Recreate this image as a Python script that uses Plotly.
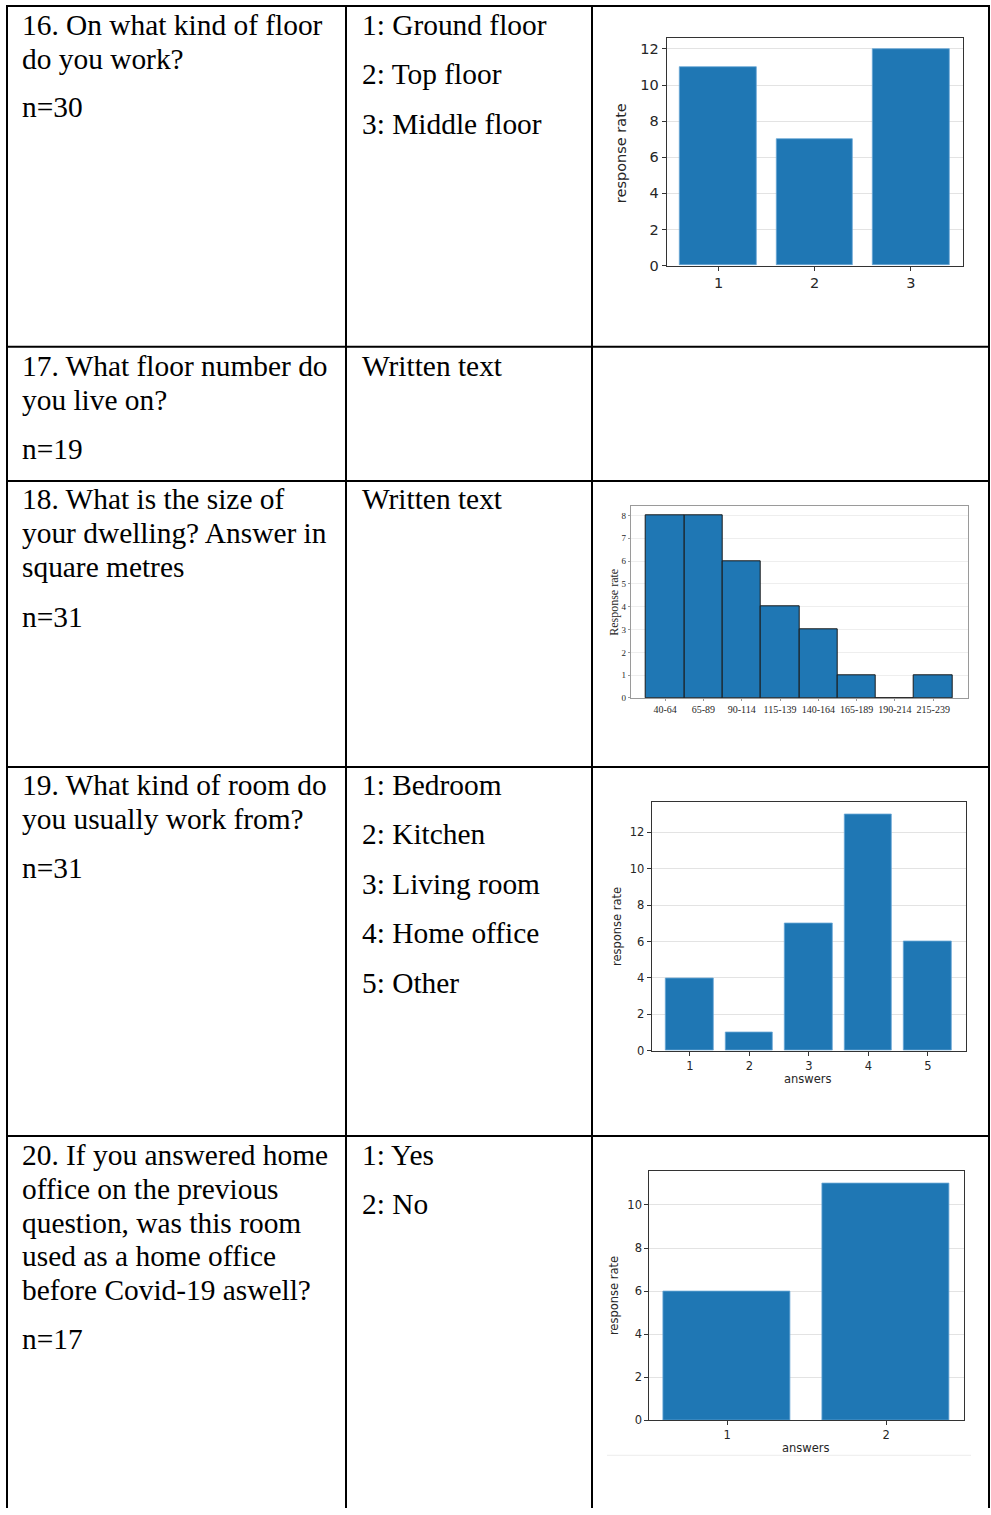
import plotly.graph_objects as go

W, H = 991, 1515

# ---------------- data ----------------
q16_answers = [1, 2, 3]
q16_counts = [11, 7, 12]

q18_bins = ["40-64", "65-89", "90-114", "115-139", "140-164", "165-189", "190-214", "215-239"]
q18_counts = [8, 8, 6, 4, 3, 1, 0, 1]

q19_answers = [1, 2, 3, 4, 5]
q19_counts = [4, 1, 7, 13, 6]

q20_answers = [1, 2]
q20_counts = [6, 11]

# ---------------- table text ----------------
q16_lines = ["16. On what kind of floor", "do you work?"]
q16_n = "n=30"
q16_opts = ["1: Ground floor", "2: Top floor", "3: Middle floor"]

q17_lines = ["17. What floor number do", "you live on?"]
q17_n = "n=19"
q17_opts = ["Written text"]

q18_lines = ["18. What is the size of", "your dwelling? Answer in", "square metres"]
q18_n = "n=31"
q18_opts = ["Written text"]

q19_lines = ["19. What kind of room do", "you usually work from?"]
q19_n = "n=31"
q19_opts = ["1: Bedroom", "2: Kitchen", "3: Living room", "4: Home office", "5: Other"]

q20_lines = ["20. If you answered home", "office on the previous", "question, was this room",
             "used as a home office", "before Covid-19 aswell?"]
q20_n = "n=17"
q20_opts = ["1: Yes", "2: No"]


def px(x):
    return x / W


def py(y):
    return 1 - y / H


BLUE = "#1f77b4"
SERIF = "Liberation Serif, Times New Roman, serif"
SANS = "DejaVu Sans, sans-serif"
TXT = 29.4

fig = go.Figure()

# ---- bar traces ----
fig.add_trace(go.Bar(x=q16_answers, y=q16_counts, width=0.8, marker=dict(color=BLUE, line=dict(color="#6aa7d6", width=0.8)),
                     xaxis="x", yaxis="y", showlegend=False))
fig.add_trace(go.Bar(x=q18_bins, y=q18_counts, width=1.0, marker=dict(color=BLUE, line=dict(color="#1a1a1a", width=1)),
                     xaxis="x2", yaxis="y2", showlegend=False))
fig.add_trace(go.Bar(x=q19_answers, y=q19_counts, width=0.8, marker=dict(color=BLUE, line=dict(color="#6aa7d6", width=0.8)),
                     xaxis="x3", yaxis="y3", showlegend=False))
fig.add_trace(go.Bar(x=q20_answers, y=q20_counts, width=0.8, marker=dict(color=BLUE, line=dict(color="#6aa7d6", width=0.8)),
                     xaxis="x4", yaxis="y4", showlegend=False))


def xax(l, r, rng, tickvals, fs, font=SANS, lc="#333333", tl=4):
    d = dict(domain=[px(l), px(r)], range=rng, showline=True, mirror=True, linecolor=lc, linewidth=1,
             ticks="outside", ticklen=tl, tickcolor=lc, showgrid=False, zeroline=False, fixedrange=True,
             tickfont=dict(family=font, size=fs, color="#262626"))
    if tickvals is not None:
        d.update(tickmode="array", tickvals=tickvals)
    return d


def yax(t, b, rng, tickvals, fs, font=SANS, lc="#333333", gc="#e3e3e3", tl=4):
    return dict(domain=[py(b), py(t)], range=rng, showline=True, mirror=True, linecolor=lc, linewidth=1,
                ticks="outside", ticklen=tl, tickcolor=lc, showgrid=True, gridcolor=gc, gridwidth=1,
                zeroline=False, fixedrange=True, tickmode="array", tickvals=tickvals,
                tickfont=dict(family=font, size=fs, color="#262626"))


layout = dict(
    width=W, height=H, margin=dict(l=0, r=0, t=0, b=0),
    paper_bgcolor="white", plot_bgcolor="white", bargap=0,
    xaxis=xax(666.7, 962.7, [0.46, 3.54], q16_answers, 14.5),
    yaxis=yax(38.3, 267, [0, 12.6], [0, 2, 4, 6, 8, 10, 12], 14.5),
    xaxis2=xax(630.7, 967.7, [-0.9, 7.9], None, 10, font=SERIF, lc="#9a9a9a", tl=2),
    yaxis2=yax(509, 701.7, [0, 8.4], list(range(0, 9)), 9, font=SERIF, lc="#9a9a9a", gc="#eeeeee", tl=2),
    xaxis3=xax(651.7, 966, [0.36, 5.64], q19_answers, 11.5),
    yaxis3=yax(806.7, 1056.3, [0, 13.65], [0, 2, 4, 6, 8, 10, 12], 11.5),
    xaxis4=xax(649.3, 964, [0.51, 2.49], q20_answers, 11.5),
    yaxis4=yax(1177.7, 1428, [0, 11.55], [0, 2, 4, 6, 8, 10], 11.5),
)
layout["xaxis"]["anchor"] = "y"
layout["yaxis"]["anchor"] = "x"
layout["xaxis2"]["anchor"] = "y2"
layout["yaxis2"]["anchor"] = "x2"
layout["xaxis2"]["type"] = "category"
layout["xaxis3"]["anchor"] = "y3"
layout["yaxis3"]["anchor"] = "x3"
layout["xaxis4"]["anchor"] = "y4"
layout["yaxis4"]["anchor"] = "x4"
fig.update_layout(**layout)

annotations = []


def text(x, y, s, size=TXT, font=SERIF, anchor="left", angle=0, color="black"):
    annotations.append(dict(x=px(x), y=py(y), xref="paper", yref="paper", text=s, showarrow=False,
                            xanchor=anchor, yanchor="middle", textangle=angle, borderpad=0,
                            font=dict(family=font, size=size, color=color)))


# column 1 & 2 text
rows = [
    (q16_lines, q16_n, q16_opts, 25, 108),
    (q17_lines, q17_n, q17_opts, 368, 451),
    (q18_lines, q18_n, q18_opts, 502, 620),
    (q19_lines, q19_n, q19_opts, 789, 873),
    (q20_lines, q20_n, q20_opts, 1161, 1346),
]
LINE = 34
PARA = 49.7
for lines, n, opts, y0, yn in rows:
    for i, s in enumerate(lines):
        text(21, y0 + i * LINE, s)
    text(21, yn, n)
    for i, s in enumerate(opts):
        text(361, y0 + i * PARA, s)

# axis labels
text(621, 154, "response rate", size=14.5, font=SANS, anchor="center", angle=-90, color="#262626")
text(614, 606, "Response rate", size=12, font=SERIF, anchor="center", angle=-90, color="#262626")
text(617, 932, "response rate", size=11.5, font=SANS, anchor="center", angle=-90, color="#262626")
text(808, 1085, "answers", size=11.5, font=SANS, anchor="center", color="#262626")
text(614, 1303, "response rate", size=11.5, font=SANS, anchor="center", angle=-90, color="#262626")
text(806, 1456, "answers", size=11.5, font=SANS, anchor="center", color="#262626")

fig.update_layout(annotations=annotations)

# table borders
shapes = []
for x in [7, 346, 592, 989]:
    shapes.append(dict(type="line", xref="paper", yref="paper", x0=px(x), x1=px(x), y0=py(5), y1=py(1516),
                       line=dict(color="black", width=2)))
for y in [6, 348.5, 483.5, 771, 1142]:
    shapes.append(dict(type="line", xref="paper", yref="paper", x0=px(6), x1=px(990), y0=py(y), y1=py(y),
                       line=dict(color="black", width=2)))
shapes.append(dict(type="line", xref="paper", yref="paper", x0=px(607), x1=px(971), y0=py(1463), y1=py(1463),
                   line=dict(color="#ececec", width=1)))
fig.update_layout(shapes=shapes)

css_fix = (
    "var de=document.documentElement,b=document.body;"
    "de.style.margin='0';de.style.padding='0';de.style.overflow='hidden';de.style.height='1515px';"
    "b.style.margin='0';b.style.padding='0';b.style.overflow='hidden';b.style.height='1515px';"
    "b.style.lineHeight='0';b.style.fontSize='0';"
)
fig.write_html("out.html", config={"displayModeBar": False}, post_script=css_fix)
